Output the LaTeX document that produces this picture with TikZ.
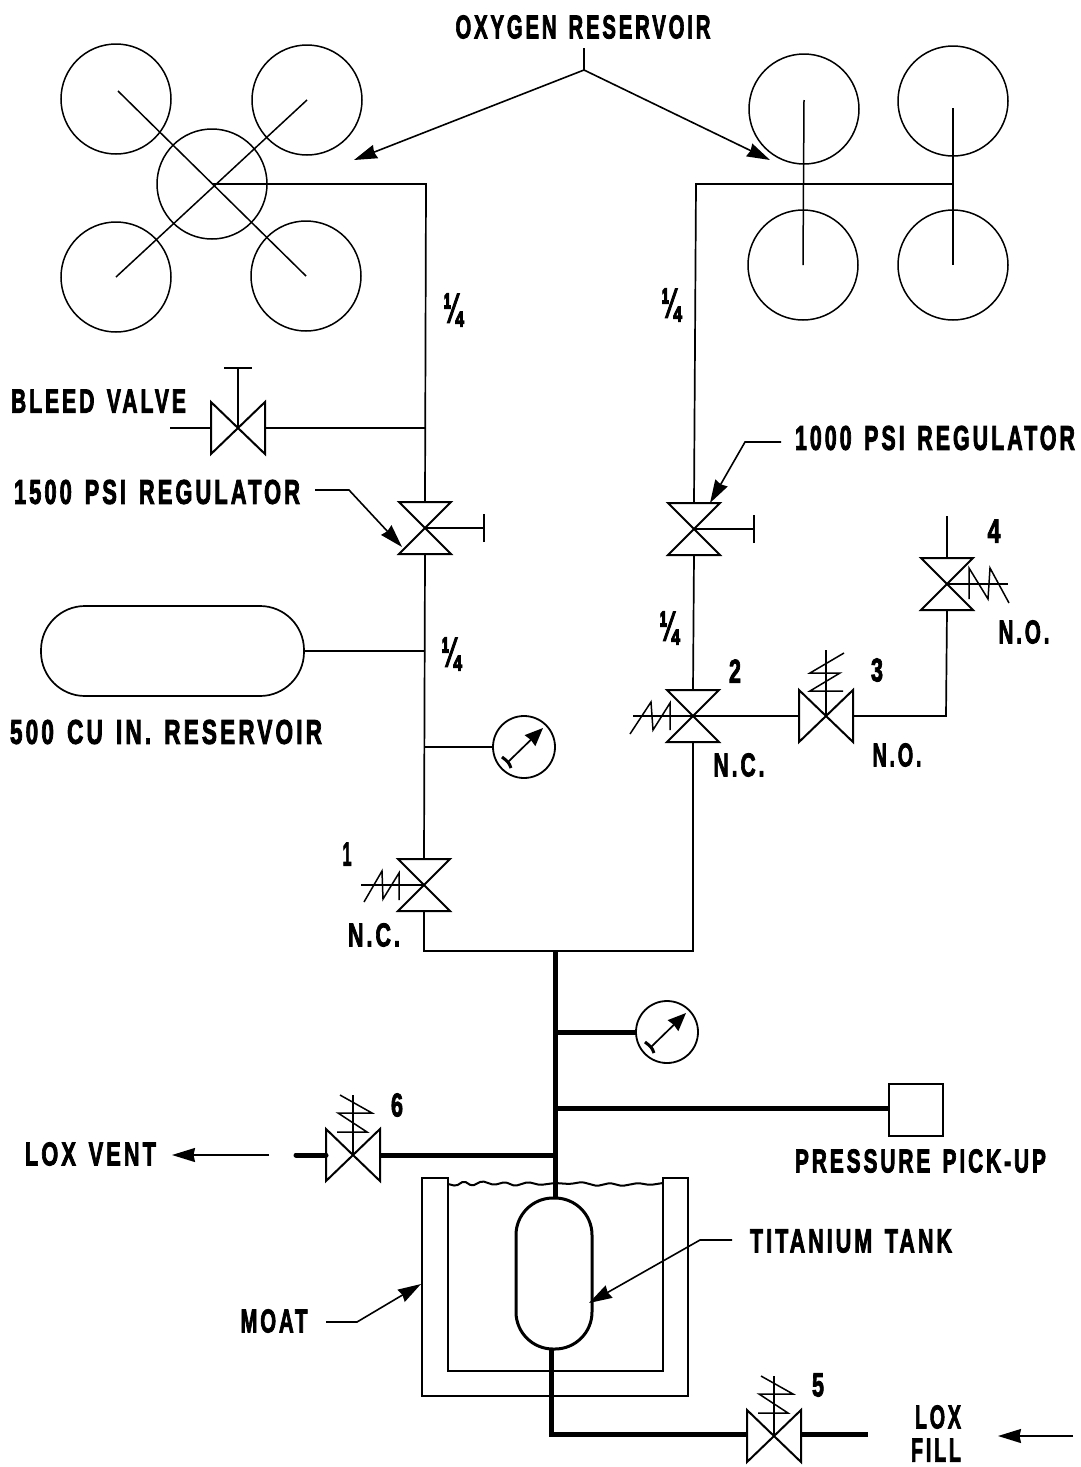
\documentclass[tikz,border=0pt]{standalone}
\usepackage{fontspec}
\usepackage{graphicx}
\usetikzlibrary{arrows.meta}
\newfontfamily\lab[LetterSpace=14,WordSpace=1.4,FakeBold=3]{Liberation Sans Bold}
\newfontfamily\labq[FakeBold=3.5]{Liberation Sans Bold}
\newcommand{\lbl}[5][]{\node[txt] (#2) at (#3) {\resizebox{#4pt}{#5pt}{\lab #1}};}
\newcommand{\lblq}[3]{\node[txt] (#1) at (#2) {\resizebox{19pt}{29pt}{\labq #3}};}
\tikzset{
  pipe/.style={line width=1.7pt,line join=miter},
  heavy/.style={line width=5pt,line join=miter},
  thinl/.style={line width=1.5pt},
  txt/.style={inner sep=0pt,outer sep=0pt},
  lead/.style={line width=1.6pt,-{Stealth[length=23pt,width=14pt,inset=1.5pt]}},
  disc/.style={circle,draw,line width=1.5pt,minimum size=110pt,inner sep=0pt,outer sep=0pt},
  dial/.style={circle,draw,line width=1.8pt,minimum size=62pt,inner sep=0pt,outer sep=0pt},
  vessel/.style={draw,line width=1.7pt,inner sep=0pt,outer sep=0pt},
  pics/vvalve/.style={code={
    \draw[pipe,line width=2pt] (-26,-26)--(26,-26)--(-26,26)--(26,26)--cycle;
    \coordinate (-t) at (0,-26); \coordinate (-b) at (0,26);
    \coordinate (-c) at (0,0);}},
  pics/hvalve/.style={code={
    \draw[pipe,line width=2pt] (-27,-26)--(-27,26)--(27,-26)--(27,26)--cycle;
    \coordinate (-l) at (-27,0); \coordinate (-r) at (27,0);
    \coordinate (-c) at (0,0);}},
}
\begin{document}
\begin{tikzpicture}[x=1pt,y=-1pt]
\useasboundingbox (0,0) rectangle (1080,1467);
% left reservoirs
\node[disc] (a1) at (116,99) {};
\node[disc] (a2) at (307,100) {};
\node[disc] (a3) at (116,277) {};
\node[disc] (a4) at (306,276) {};
\node[disc] (a0) at (212,184) {};
\draw[thinl] (a1.center)++(2,-8) -- (a4.center);
\draw[thinl] (a2.center) -- (a3.center);
% right reservoirs
\node[disc] (b1) at (804,109) {};
\node[disc] (b2) at (953,101) {};
\node[disc] (b3) at (803,265) {};
\node[disc] (b4) at (953,265) {};
\draw[thinl] (b1.center)++(0,-9) -- (b3.center);
\draw[thinl] (b2.center)++(0,7) -- (b4.center);
% junctions
\coordinate (jl) at (426,184);
\coordinate (jb) at (426,428);
\coordinate (jr) at (696,184);
\coordinate (jb4) at (953,184);
\coordinate (jres) at (425,651);
\coordinate (jg1) at (425,747);
\coordinate (jm) at (555,951);
\coordinate (jg2) at (555,1032);
\coordinate (jp) at (555,1108);
\coordinate (jv) at (555,1155);
\coordinate (jc) at (946,716);
\coordinate (jcl) at (424,951);
\coordinate (jcr) at (693,951);
\coordinate (jt) at (551,1434);
% valves
\pic (r15) at (425,528) {vvalve};
\pic (r10) at (694,529) {vvalve};
\pic (v1) at (424,885) {vvalve};
\pic (v2) at (693,716) {vvalve};
\pic (v3) at (826,716) {hvalve};
\pic (v4) at (947,584) {vvalve};
\pic (v6) at (353,1155) {hvalve};
\pic (v5) at (774,1436) {hvalve};
\pic (vb) at (238,428) {hvalve};
% thin piping
\draw[pipe] (a0.center) -- (jl) -- (r15-t);
\draw[pipe] (jb) -- (vb-r);
\draw[pipe] (vb-l) -- ++(-41,0) coordinate (bleedend);
\draw[pipe] (vb-c) -- ++(0,-60) coordinate (bleedtop);
\draw[pipe] ([xshift=-14pt]bleedtop) -- ([xshift=14pt]bleedtop);
\draw[pipe] (jb4) -- (jr) -- (r10-t);
\draw[pipe] (r15-c) -- ++(59,0) coordinate (h15);
\draw[pipe] ([yshift=-14pt]h15) -- ([yshift=14pt]h15);
\draw[pipe] (r10-c) -- ++(60,0) coordinate (h10);
\draw[pipe] ([yshift=-14pt]h10) -- ([yshift=14pt]h10);
\draw[pipe] (r15-b) -- (v1-t);
\draw[pipe] (v1-b) -- (jcl) -- (jcr) -- (v2-b);
\draw[pipe] (r10-b) -- (v2-t);
\draw[pipe] (v2-c) -- (v3-l);
\draw[pipe] (v3-r) -- (jc) -- (v4-b);
\draw[pipe] (v4-t) -- ++(0,-42);
% 500 cu in reservoir
\node[vessel,minimum width=263pt,minimum height=90pt,rounded corners=44pt] (res) at (172.5,651) {};
\draw[pipe] (res.east) -- (jres);
% gauges
\node[dial] (g1) at (524,747) {};
\draw[pipe] (jg1) -- (g1.west);
\node[dial] (g2) at (667,1032) {};
\draw[heavy] (jg2) -- (g2.west);
\foreach \g in {g1,g2}{
  \draw[line width=1.7pt,-{Stealth[length=18pt,width=15pt,inset=1pt]}] ([shift={(-16,15)}]\g.center) -- ([shift={(19,-19)}]\g.center);
  \draw[line width=3pt] ([shift={(-22,10)}]\g.center) .. controls ([shift={(-17,14)}]\g.center) and ([shift={(-15,15)}]\g.center) .. ([shift={(-13,21)}]\g.center);
}
% springs
\draw[thinl] (v1-c) -- ++(-63,0);
\draw[thinl] (364,902)--(382,871)--(383,899)--(399,873)--(399,900);
\draw[thinl] (v2-c) -- ++(-60,0);
\draw[thinl] (630,734)--(651,702)--(653,730)--(670,703)--(670,730);
\draw[thinl] (v4-c) -- ++(61,0);
\draw[thinl] (969,599)--(969,568)--(988,599)--(990,568)--(1009,603);
\draw[thinl] (v3-c) -- ++(0,-66);
\draw[thinl] (844,653)--(810,673)--(840,673)--(810,691)--(843,691);
\draw[thinl] (v6-c) -- ++(0,-60);
\draw[thinl] (340,1095)--(372,1113)--(338,1113)--(367,1132)--(337,1132);
\draw[thinl] (v5-c) -- ++(0,-60);
\draw[thinl] (761,1376)--(793,1394)--(759,1394)--(788,1413)--(758,1413);
% moat
\draw[pipe] (448,1184) -- (448,1178) -- (422,1178) -- (422,1396) -- (688,1396) -- (688,1178) -- (663,1178) -- (663,1184);
\draw[pipe] (448,1184) -- (448,1371) -- (663,1371) -- (663,1184);
\draw[line width=2pt,rounded corners=2pt] (448,1184)--(456,1186)--(464,1181)--(472,1186)--(482,1181)--(494,1185)--(505,1182)--(515,1186)--(528,1182)--(540,1185)--(555,1183)--(570,1184)--(582,1182)--(597,1186)--(610,1183)--(622,1186)--(638,1183)--(650,1185)--(663,1183);
% tank and heavy piping
\node[vessel,line width=3pt,minimum width=76pt,minimum height=151pt,rounded corners=37pt] (tank) at (554,1273.5) {};
\node[vessel,minimum width=54pt,minimum height=52pt] (box) at (916,1110) {};
\draw[heavy] (jm) -- (tank.north -| jm);
\draw[heavy] (jp) -- (box.west |- jp);
\draw[heavy] (jv) -- (v6-r);
\draw[heavy,line cap=round] (v6-l) -- ++(-30,0);
\draw[heavy] (tank.south -| jt) -- (jt) -- (v5-l |- jt);
\draw[heavy] (v5-r |- jt) -- ++(67,0);
% leaders
\coordinate (o0) at (584,48);
\coordinate (o1) at (584,70);
\draw[thinl] (o0) -- (o1);
\draw[lead] (o1) -- (354,160);
\draw[lead] (o1) -- (770,160);
\draw[lead] (315,490) -- (349,490) -- (402,547);
\draw[lead] (781,442) -- (745,442) -- (710,503);
\draw[lead] (269,1155) -- (172,1155);
\draw[lead] (1073,1436) -- (998,1436);
\draw[lead] (326,1322) -- (357,1322) -- (421,1284);
\draw[lead] (732,1240) -- (700,1240) -- (589,1303);
% labels
\lbl[OXYGEN RESERVOIR]{t1}{583,27}{255}{23}
\lbl[BLEED VALVE]{t2}{98.5,401}{175}{23}
\lbl[1500 PSI REGULATOR]{t3}{157,492}{286}{24}
\lbl[1000 PSI REGULATOR]{t4}{935,438}{280}{24}
\lbl[500 CU IN. RESERVOIR]{t5}{166,732}{312}{24}
\lbl[LOX VENT]{t6}{90.5,1154}{131}{23}
\lbl[PRESSURE PICK-UP]{t7}{920.5,1161}{251}{23}
\lbl[TITANIUM TANK]{t8}{851,1241}{202}{23}
\lbl[MOAT]{t9}{274,1321}{67}{23}
\lbl[LOX]{t10}{938,1417}{46}{23}
\lbl[FILL]{t11}{936,1450}{50}{23}
\lbl[N.C.]{t12}{374,935}{52}{23}
\lbl[N.C.]{t13}{739,765}{51}{23}
\lbl[N.O.]{t14}{1024,632}{51}{23}
\lbl[N.O.]{t15}{897,755}{49}{23}
\lbl[1]{n1}{347,854}{9}{23}
\lbl[2]{n2}{735,671}{12}{23}
\lbl[3]{n3}{877,670}{12}{23}
\lbl[4]{n4}{994,531}{13}{23}
\lbl[5]{n5}{818,1385}{12}{23}
\lbl[6]{n6}{397,1105}{12}{23}
\lblq{q1}{453,310}{¼}
\lblq{q2}{671,305}{¼}
\lblq{q3}{451,654}{¼}
\lblq{q4}{669,628}{¼}
\end{tikzpicture}
\end{document}
